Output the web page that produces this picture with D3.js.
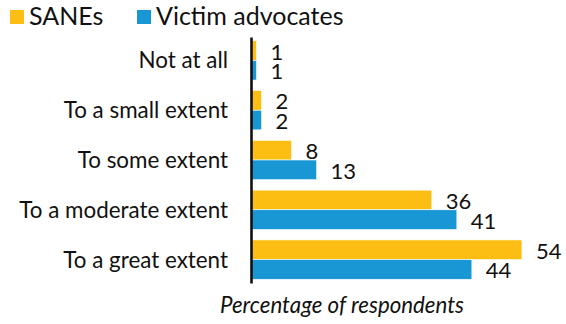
<!DOCTYPE html>
<html>
<head>
<meta charset="utf-8">
<script src="https://cdn.jsdelivr.net/npm/d3@7"></script>
<style>
  html, body { margin: 0; padding: 0; background: #fff; }
  svg { display: block; font-family: Lato, "Open Sans", sans-serif; }
</style>
</head>
<body>
<svg id="chart" width="566" height="324"></svg>
<script>
// Extent to which respondents agree, by group (percent)
const categories = ["Not at all", "To a small extent", "To some extent", "To a moderate extent", "To a great extent"];
const seriesNames = ["SANEs", "Victim advocates"];
const sanes = [1, 2, 8, 36, 54];
const advocates = [1, 2, 13, 41, 44];
const axisTitle = "Percentage of respondents";

const colors = { "SANEs": "#FDBE14", "Victim advocates": "#1996D4" };
const values = { "SANEs": sanes, "Victim advocates": advocates };

const svg = d3.select("#chart");

const x = d3.scaleLinear().domain([0, 60]).range([251.5, 552]);
const y = d3.scaleBand().domain(categories).range([37, 283])
  .paddingInner(0.21).paddingOuter(0.075);
const ySub = d3.scaleBand().domain(seriesNames).range([0, y.bandwidth()]);

const rows = categories.map((c, i) => ({
  category: c,
  items: seriesNames.map(s => ({ series: s, value: values[s][i] }))
}));

const groups = svg.append("g").selectAll("g").data(rows).join("g")
  .attr("transform", d => `translate(0,${y(d.category)})`);

groups.selectAll("rect").data(d => d.items).join("rect")
  .attr("x", x(0))
  .attr("y", d => ySub(d.series))
  .attr("width", d => x(d.value) - x(0))
  .attr("height", ySub.bandwidth())
  .attr("fill", d => colors[d.series])
  .attr("stroke", "#fff")
  .attr("stroke-width", 0.6);

groups.selectAll("text.value").data(d => d.items).join("text")
  .attr("class", "value")
  .attr("x", d => x(d.value) + 14)
  .attr("y", d => ySub(d.series) + ySub.bandwidth() / 2 + 9)
  .attr("font-size", 22)
  .attr("fill", "#111")
  .text(d => d.value);

// Category axis: a plain vertical line with labels on the left
const yAxis = d3.axisLeft(y).tickSize(0).tickPadding(0);
const ax = svg.append("g")
  .attr("transform", `translate(${x(0) - 0.5},0)`)
  .call(yAxis);
ax.select(".domain").attr("stroke", "#111").attr("stroke-width", 2.6);
ax.selectAll(".tick text")
  .attr("x", -23)
  .attr("dy", null)
  .attr("y", 8)
  .attr("font-family", "Lato, sans-serif")
  .attr("font-size", 22.4)
  .attr("fill", "#111");

// Axis title
svg.append("text")
  .attr("x", 342)
  .attr("y", 313)
  .attr("text-anchor", "middle")
  .attr("font-style", "italic")
  .attr("font-size", 22.3)
  .attr("fill", "#111")
  .text(axisTitle);

// Legend
const legendX = [10, 137];
const legend = svg.append("g").selectAll("g").data(seriesNames).join("g")
  .attr("transform", (d, i) => `translate(${legendX[i]},0)`);
legend.append("rect")
  .attr("x", 0).attr("y", 10)
  .attr("width", 14).attr("height", 14)
  .attr("fill", d => colors[d]);
legend.append("text")
  .attr("x", 19).attr("y", 25)
  .attr("font-size", 25)
  .attr("fill", "#111")
  .text(d => d);
</script>
</body>
</html>
